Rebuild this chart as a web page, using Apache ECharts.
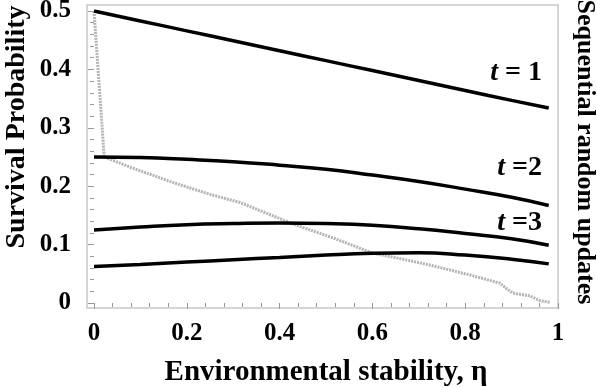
<!DOCTYPE html>
<html><head><meta charset="utf-8">
<script src="https://cdn.jsdelivr.net/npm/echarts@6/dist/echarts.min.js"></script>
<style>html,body{margin:0;padding:0;background:#fff}#c{width:597px;height:387px}</style>
</head><body><div id="c"></div>
<script>
// Environmental stability (x) sample points for the analytic curves
const eta = [0, 0.1, 0.2, 0.3, 0.4, 0.5, 0.6, 0.7, 0.8, 0.9, 0.98];
const surv_t1 = [0.5, 0.483, 0.466, 0.449, 0.432, 0.415, 0.398, 0.381, 0.364, 0.347, 0.334];
const surv_t2 = [0.25, 0.249, 0.246, 0.242, 0.236, 0.229, 0.219, 0.208, 0.195, 0.181, 0.167];
const surv_t3 = [0.125, 0.130, 0.134, 0.136, 0.137, 0.136, 0.133, 0.127, 0.119, 0.110, 0.099];
const surv_t4 = [0.0625, 0.066, 0.070, 0.074, 0.078, 0.082, 0.085, 0.086, 0.082, 0.075, 0.067];
// Sequential random updates (grey curve)
const seqEta = [0, 0.022, 0.08, 0.164, 0.25, 0.315, 0.43, 0.52, 0.602, 0.66, 0.724, 0.81, 0.875, 0.89, 0.903, 0.94, 0.961, 0.983];
const seqVal = [0.5, 0.25, 0.232, 0.208, 0.186, 0.172, 0.135, 0.11, 0.085, 0.076, 0.065, 0.048, 0.034, 0.024, 0.017, 0.012, 0.004, 0.001];
// Tick labels
const xTicks = [0, 0.2, 0.4, 0.6, 0.8, 1];
const yTicks = [0, 0.1, 0.2, 0.3, 0.4, 0.5];
// Curve labels [text, eta, value]
const curveLabels = [['{i|t} = 1', 0.9655, 0.394], ['{i|t} =2', 0.9655, 0.231], ['{i|t} =3', 0.9655, 0.137]];

const FONT = 'Liberation Serif';
const zip = (xs, ys) => xs.map((x, i) => [x, ys[i]]);
const chart = echarts.init(document.getElementById('c'));
const blackLine = (name, vals) => ({
  name, type: 'line', data: zip(eta, vals), smooth: true, showSymbol: false, z: 3,
  lineStyle: { color: '#000', width: 3.5 }
});
const tickLabel = (v) => String(Math.round(v * 100) / 100);
chart.setOption({
  backgroundColor: '#fff',
  animation: false,
  grid: { left: 94, right: 39, top: 11, bottom: 84, outerBoundsMode: 'none' },
  xAxis: {
    type: 'value', min: xTicks[0], max: xTicks[xTicks.length - 1], interval: 0.2, offset: 5,
    axisLine: { show: false },
    axisTick: { show: true, length: 6, lineStyle: { color: '#999', width: 1 } },
    minorTick: { show: true, splitNumber: 5, length: 4, lineStyle: { color: '#999', width: 1 } },
    splitLine: { show: false },
    axisLabel: { margin: 13, color: '#000', fontFamily: FONT, fontWeight: 'bold', fontSize: 25, formatter: tickLabel },
    name: 'Environmental stability, η', nameLocation: 'middle', nameGap: 50, nameMoveOverlap: false,
    nameTextStyle: { color: '#000', fontFamily: FONT, fontWeight: 'bold', fontSize: 29 }
  },
  yAxis: [{
    type: 'value', min: yTicks[0], max: yTicks[yTicks.length - 1], interval: 0.1, offset: 7,
    axisLine: { show: false },
    axisTick: { show: true, length: 6, lineStyle: { color: '#999', width: 1 } },
    minorTick: { show: true, splitNumber: 5, length: 4, lineStyle: { color: '#999', width: 1 } },
    splitLine: { show: false },
    axisLabel: { margin: 16, color: '#000', fontFamily: FONT, fontWeight: 'bold', fontSize: 25, formatter: tickLabel },
    name: 'Survival Probability', nameLocation: 'middle', nameRotate: 90, nameGap: 56, nameMoveOverlap: false,
    nameTextStyle: { color: '#000', fontFamily: FONT, fontWeight: 'bold', fontSize: 28, padding: [0, 0, 0, 60] }
  }, {
    type: 'value', position: 'right', min: 0, max: 0.5,
    axisLine: { show: false }, axisTick: { show: false }, axisLabel: { show: false }, splitLine: { show: false },
    name: 'Sequential random updates', nameLocation: 'middle', nameRotate: -90, nameGap: 14, nameMoveOverlap: false,
    nameTextStyle: { color: '#000', fontFamily: FONT, fontWeight: 'bold', fontSize: 26, padding: [0, 10, 0, 0] }
  }],
  series: [
    {
      name: 'Sequential random updates', type: 'line', data: zip(seqEta, seqVal), showSymbol: false, z: 2,
      lineStyle: { color: '#b4b4b4', width: 3, type: [2, 1] }
    },
    blackLine('t=1', surv_t1),
    blackLine('t=2', surv_t2),
    blackLine('t=3', surv_t3),
    blackLine('t=4', surv_t4)
  ]
});

// frame and curve labels
const tl = chart.convertToPixel({ gridIndex: 0 }, [0, 0.5]);
const br = chart.convertToPixel({ gridIndex: 0 }, [1, 0]);
const frameLeft = tl[0] - 7, frameTop = tl[1] - 6, frameRight = br[0], frameBottom = br[1] + 5;
const graphics = [{
  type: 'rect', z: 0, silent: true,
  shape: { x: frameLeft, y: frameTop, width: frameRight - frameLeft, height: frameBottom - frameTop },
  style: { fill: 'none', stroke: '#c8c8c8', lineWidth: 1.5 }
}];
curveLabels.forEach(([txt, x, y]) => {
  const p = chart.convertToPixel({ gridIndex: 0 }, [x, y]);
  graphics.push({
    type: 'text', x: p[0], y: p[1], z: 10,
    style: {
      text: txt, align: 'right', verticalAlign: 'middle',
      fontFamily: FONT, fontWeight: 'bold', fontSize: 28, fill: '#000',
      rich: { i: { fontStyle: 'italic', fontWeight: 'bold', fontFamily: FONT, fontSize: 28, fill: '#000' } }
    }
  });
});
chart.setOption({ graphic: graphics });
</script>
</body></html>
